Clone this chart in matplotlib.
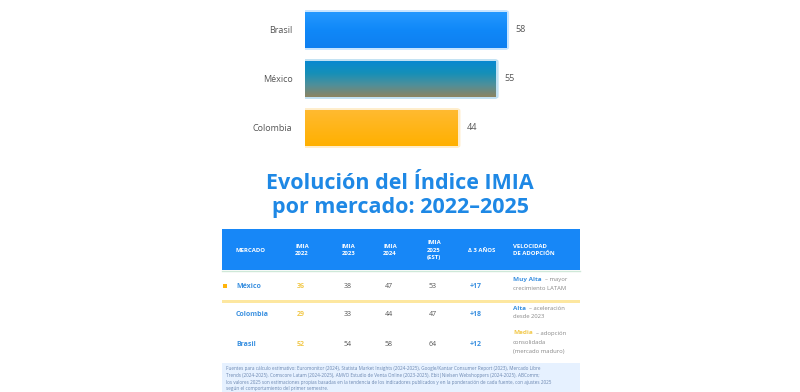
import numpy as np
import matplotlib.pyplot as plt
from matplotlib.patches import Rectangle, FancyBboxPatch
from matplotlib.colors import LinearSegmentedColormap

# datos del gráfico de barras (IMIA 2025)
paises = ["Brasil", "México", "Colombia"]
imia_2025 = [58, 55, 44]

# tabla de evolución
encabezados = ["MERCADO", "IMIA\n2022", "IMIA\n2023", "IMIA\n2024", "IMIA\n2025\n(EST)", "Δ 3 AÑOS", "VELOCIDAD\nDE ADOPCIÓN"]
mercados = ["México", "Colombia", "Brasil"]
col_2022 = ["36", "29", "52"]
col_2023 = ["38", "33", "54"]
col_2024 = ["47", "44", "58"]
col_2025 = ["53", "47", "64"]
delta = ["+17", "+18", "+12"]
vel_tag = ["Muy Alta", "Alta", "Media"]
vel_txt = ["– mayor\ncrecimiento LATAM", "– aceleración\ndesde 2023", "– adopción\nconsolidada\n(mercado maduro)"]
fuente = ("Fuentes para cálculo estimativo: Euromonitor (2024), Statista Market Insights (2024-2025), Google/Kantar Consumer Report (2023), Mercado Libre\n"
          "Trends (2024-2025), Comscore Latam (2024-2025), AMVO Estudio de Venta Online (2023-2025), Ebit|Nielsen Webshoppers (2024-2025), ABComm;\n"
          "los valores 2025 son estimaciones propias basadas en la tendencia de los indicadores publicados y en la ponderación de cada fuente, con ajustes 2025\n"
          "según el comportamiento del primer semestre.")

AZUL = "#1787f7"
AMARILLO = "#ffb40a"

plt.rcParams['font.family'] = ['Open Sans', 'DejaVu Sans']
fig = plt.figure(figsize=(8, 3.92), dpi=100)

# ---- barras
axb = fig.add_axes([305/800, 1-152.5/392, 245/800, 147/392])
y = np.arange(len(paises))
bars = axb.barh(y, imia_2025, height=0.72, color=["#1a8cff", "#0a86c4", "#ffb310"], zorder=2)
axb.set_xlim(0, 70.6)
axb.set_yticks(y)
axb.set_yticklabels(paises, fontsize=6.5, color="#555555")
axb.tick_params(axis="y", length=0, pad=9)
axb.set_xticks([])
for s in axb.spines.values():
    s.set_visible(False)

grad = {
    0: ["#2398ff", "#1088f8", "#0e7ff0"],
    1: ["#0888d0", "#1590b8", "#4f8f9a", "#8c8462"],
    2: ["#ffba30", "#ffb000"],
}
for i, b in enumerate(bars):
    cm = LinearSegmentedColormap.from_list("g%d" % i, grad[i])
    x0, y0 = b.get_x(), b.get_y()
    w, h = b.get_width(), b.get_height()
    # glow suave alrededor de la barra
    axb.add_patch(FancyBboxPatch((x0, y0), w, h, boxstyle="round,pad=0.3,rounding_size=0.6",
                                 mutation_aspect=0.04, facecolor="none",
                                 edgecolor=grad[i][0], alpha=0.25, lw=2.5, zorder=1))
    im = axb.imshow(np.linspace(0, 1, 64).reshape(-1, 1), cmap=cm, aspect="auto",
                    extent=[x0, x0 + w, y0 + h, y0], zorder=3, interpolation="bilinear")
    im.set_clip_path(b)
    axb.text(w + 2.6, b.get_y() + h/2, str(imia_2025[i]), va="center", ha="left",
             fontsize=6.5, color="#555555")
axb.set_xlim(0, 70.6)
axb.set_ylim(2.5, -0.5)

# ---- capa de texto / tabla en píxeles
ax = fig.add_axes([0, 0, 1, 1])
ax.set_xlim(0, 800)
ax.set_ylim(392, 0)
ax.axis("off")

ax.text(400, 183, "Evolución del Índice IMIA", ha="center", va="center",
        fontsize=15.5, fontweight="bold", color="#1e88e5")
ax.text(400, 207, "por mercado: 2022–2025", ha="center", va="center",
        fontsize=15.5, fontweight="bold", color="#1e88e5")

# encabezado
ax.add_patch(Rectangle((222, 229), 358, 41, facecolor=AZUL, edgecolor="none"))
col_x = [235, 295, 342, 383, 427, 468, 513]
for cx, t in zip(col_x, encabezados):
    ax.text(cx, 250, t, ha="left", va="center", fontsize=4.3, fontweight="bold",
            color="white", linespacing=1.6)
ax.plot([222, 580], [271, 271], color="#cfe8d8", lw=1)

# filas
fila_y = [286, 314, 345]
ax.add_patch(Rectangle((222, 299.5), 358, 3, facecolor="#fde7a0", edgecolor="none"))
ax.add_patch(Rectangle((223, 284), 3.5, 3.5, facecolor=AMARILLO, edgecolor="none"))
for i, ry in enumerate(fila_y):
    ax.text(col_x[0] + 1, ry, mercados[i], ha="left", va="center", fontsize=5,
            color="#3a90e0", fontweight="bold")
    ax.text(col_x[1] + 2, ry, col_2022[i], ha="left", va="center", fontsize=5,
            color="#f2c94c", fontweight="bold")
    ax.text(col_x[2] + 2, ry, col_2023[i], ha="left", va="center", fontsize=5, color="#555555")
    ax.text(col_x[3] + 2, ry, col_2024[i], ha="left", va="center", fontsize=5, color="#555555")
    ax.text(col_x[4] + 2, ry, col_2025[i], ha="left", va="center", fontsize=5, color="#555555")
    ax.text(col_x[5] + 2, ry, delta[i], ha="left", va="center", fontsize=5,
            color="#3a90e0", fontweight="bold")
    tag_col = "#f2c94c" if vel_tag[i] == "Media" else "#3a90e0"
    ty = ry - 6 if i < 2 else ry - 12
    tag = ax.text(col_x[6], ty, vel_tag[i], ha="left", va="center", fontsize=4.6,
                  color=tag_col, fontweight="bold")
    lines = vel_txt[i].split("\n")
    ax.annotate(lines[0], xy=(1, 0.5), xycoords=tag, xytext=(2.5, 0),
                textcoords="offset points", ha="left", va="center",
                fontsize=4.2, color="#888888")
    for k, ln in enumerate(lines[1:]):
        ax.text(col_x[6], ty + 9 * (k + 1), ln, ha="left", va="center",
                fontsize=4.2, color="#888888")

# caja de fuentes
ax.add_patch(Rectangle((222, 363), 358, 30, facecolor="#e6f1ff", edgecolor="none"))
ax.text(226, 366, fuente, ha="left", va="top", fontsize=3.3, color="#6a86b0", linespacing=1.45)

fig.savefig("out.png", dpi=100)
